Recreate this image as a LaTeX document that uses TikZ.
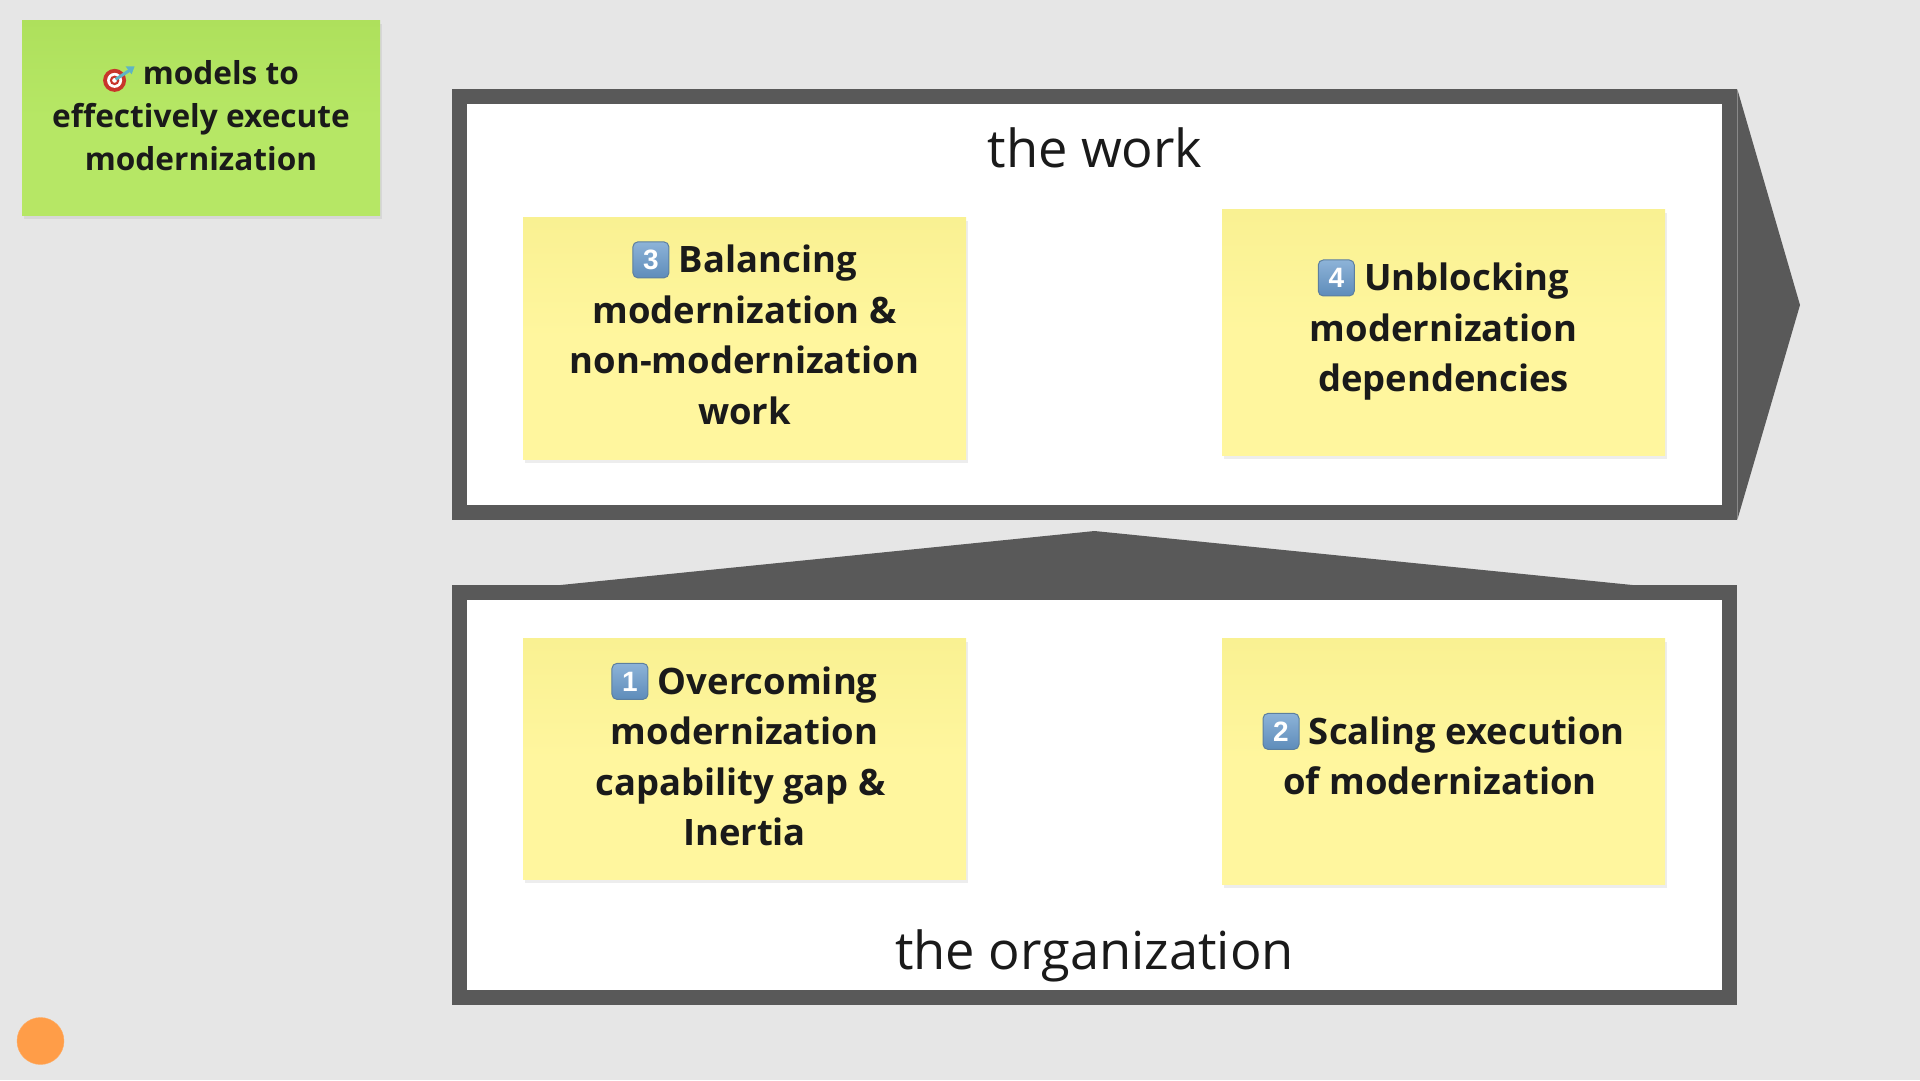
\documentclass[tikz,border=0pt]{standalone}
\usepackage{fontspec}
\setmainfont{Open Sans}
\newfontfamily\capfont{Liberation Sans}
\usepackage{xcolor}
\usetikzlibrary{arrows.meta,calc,positioning,shadows}
\definecolor{pagegray}{HTML}{E6E6E6}
\definecolor{framegray}{HTML}{595959}
\definecolor{inkblack}{HTML}{1A1A1A}
\definecolor{noteyellow}{HTML}{FFF69E}
\definecolor{notetop}{HTML}{F9F192}
\definecolor{notegreen}{HTML}{B6E765}
\definecolor{greentop}{HTML}{AEE05C}
\definecolor{dotorange}{HTML}{FF9D48}
\definecolor{captop}{HTML}{8DB3D8}
\definecolor{capbottom}{HTML}{5E8CBA}
\definecolor{capedge}{HTML}{5C7F9F}
\definecolor{dartblue}{HTML}{5FB4C4}
\definecolor{dartred}{HTML}{C8352B}
\newcommand{\keycap}[1]{\tikz[baseline={([yshift=-3pt]k.base)}]\node[capbox] (k) {#1};}
\newcommand{\bullseye}{\tikz[baseline=-4pt,x=1pt,y=1pt]{%
  \fill[dartred] (0,0) circle (11.5);
  \fill[white] (0,0) circle (7.5);
  \fill[dartred] (0,0) circle (4.8);
  \fill[white] (0,0) circle (2.4);
  \draw[line width=3pt,color=dartblue] (1,1)--(15,10);
  \fill[dartblue] (11,14)--(20,14)--(17,6)--cycle;}}
\begin{document}
\begin{tikzpicture}[x=1pt,y=-1pt,node distance=65pt and 256pt,
  frame/.style={draw=framegray,line width=15pt,fill=white,minimum width=1270.5pt},
  note/.style={top color=notetop,bottom color=noteyellow,middle color=noteyellow,minimum width=443pt,align=center,
    text=inkblack,inner sep=0pt,font=\fontsize{36.4}{50.6}\selectfont\bfseries,
    drop shadow={shadow xshift=2pt,shadow yshift=-4pt,opacity=.14}},
  goal/.style={note,top color=greentop,bottom color=notegreen,middle color=notegreen,minimum width=358pt,minimum height=195pt,
    font=\fontsize{31.6}{43}\selectfont\bfseries},
  title/.style={text=inkblack,font=\fontsize{52.4}{60}\selectfont},
  capbox/.style={draw=capedge,line width=1pt,rounded corners=5pt,top color=captop,bottom color=capbottom,text=white,inner sep=0pt,
    minimum size=36pt,font=\capfont\fontsize{28}{28}\selectfont\bfseries}]
\useasboundingbox (0,0) rectangle (1920,1080);
\fill[pagegray] (0,0) rectangle (1920,1080);
\node[goal] (goal) at (201,117.5) {\bullseye\ models to\\effectively execute\\modernization\vspace{4pt}};
\node[frame,minimum height=416pt] (workframe) at (1094.5,304.5) {};
\node[frame,minimum height=405pt,below=65pt of workframe.south,anchor=north] (orgframe) {};
\coordinate (worktip) at (1800,305);
\coordinate (orgtip) at ($(orgframe.north)+(0,-54)$);
\coordinate (orgleft) at ($(orgframe.north)+(-534,0)$);
\coordinate (orgright) at ($(orgframe.north)+(538,0)$);
\fill[framegray] (workframe.north east)--(worktip)--(workframe.south east)--cycle;
\fill[framegray] (orgleft)--(orgtip)--(orgright)--cycle;
\node[title] (worktitle) at (1095,148) {the work};
\node[title] (orgtitle) at (1094.5,956) {the organization};
\node[note,minimum height=242pt] (balance) at (744.5,338) {\keycap{3} Balancing\\modernization \&\\non-modernization\\work\vspace{10pt}};
\node[note,minimum height=246pt] (unblock) at (1443.5,332) {\keycap{4} Unblocking\\modernization\\dependencies\vspace{4pt}};
\node[note,minimum height=241pt] (capability) at (744.5,758.5) {\keycap{1} Overcoming\\modernization\\capability gap \&\hspace*{8pt}\null\\Inertia\vspace{8pt}};
\node[note,minimum height=246pt] (scaling) at (1443.5,761) {\keycap{2} Scaling execution\\of modernization\hspace*{7pt}\vspace{14pt}};
\node[circle,fill=dotorange,draw=dotorange!85!white,minimum size=47pt,inner sep=0pt] (dot) at (40.5,1041) {};
\end{tikzpicture}
\end{document}
